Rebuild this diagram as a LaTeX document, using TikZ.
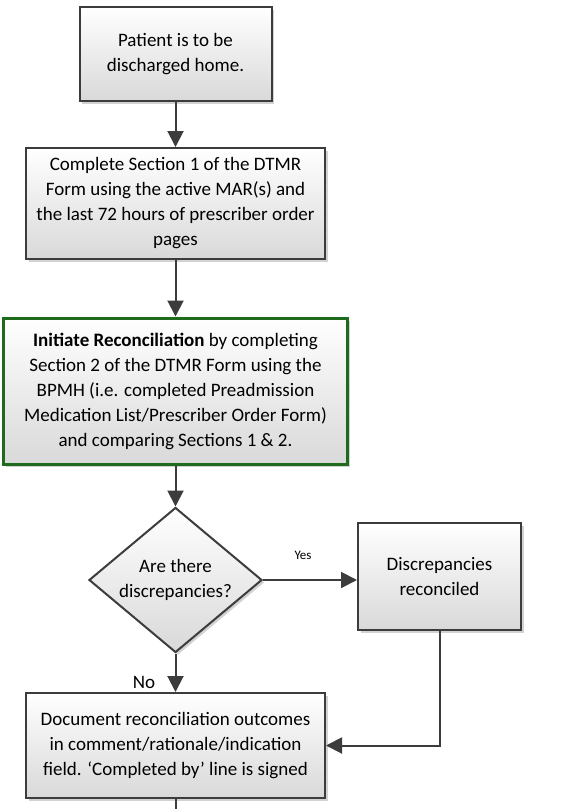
\documentclass[tikz,border=0pt]{standalone}
\usepackage{fontspec}
\setmainfont{Carlito}
\usetikzlibrary{shapes.geometric,arrows.meta,shadows}
\definecolor{edge}{HTML}{3C3C3C}
\definecolor{grn}{HTML}{1E6B1E}
\begin{document}
\begin{tikzpicture}[x=1pt,y=-1pt,
  box/.style={draw=edge,line width=2pt,top color=white,bottom color=black!15,
    drop shadow={shadow xshift=2.5pt,shadow yshift=-2.5pt,fill=black!35,opacity=.5},
    align=center,inner sep=2pt,font=\fontsize{19}{25}\selectfont},
  dec/.style={shape=diamond,draw=edge,line width=2pt,top color=white,bottom color=black!15,
    drop shadow={shadow xshift=2.5pt,shadow yshift=-2.5pt,fill=black!35,opacity=.5},
    inner sep=0pt,minimum width=173pt,minimum height=145pt},
  txt/.style={align=center,font=\fontsize{19}{25}\selectfont},
  arr/.style={draw=edge,line width=2pt,-{Triangle[length=16pt,width=16pt]},color=edge},
  ln/.style={draw=edge,line width=2pt}]
\useasboundingbox (0,0) rectangle (588,809);
\node[box,minimum width=192pt,minimum height=94pt] (b1) at (175.5,54) {Patient is to be\\discharged home.};
\node[box,minimum width=299pt,minimum height=111pt] (b2) at (175.5,203.5) {Complete Section 1 of the DTMR\\Form using the active MAR(s) and\\the last 72 hours of prescriber order\\pages};
\node[box,draw=grn,line width=3pt,minimum width=344pt,minimum height=146pt] (b3) at (175.5,391) {\textbf{Initiate Reconciliation} by completing\\Section 2 of the DTMR Form using the\\BPMH (i.e. completed Preadmission\\Medication List/Prescriber Order Form)\\and comparing Sections 1 \& 2.};
\node[dec] (d) at (175.5,580) {};
\node[txt] (dt) at (175.5,580) {Are there\\discrepancies?};
\node[box,minimum width=163pt,minimum height=107pt] (r) at (439.5,576.5) {Discrepancies\\reconciled};
\node[box,minimum width=299pt,minimum height=105pt] (b4) at (175.5,745.5) {Document reconciliation outcomes\\in comment/rationale/indication\\field. ‘Completed by’ line is signed};
\coordinate (end) at (175.5,809);
\coordinate (bend) at (r.south |- b4.east);
\draw[arr] (b1) -- (b2);
\draw[arr] (b2) -- (b3);
\draw[arr] (b3) -- (d);
\draw[arr] (d.east) -- (r.west |- d.east);
\node[font=\fontsize{13}{15}\selectfont] (yes) at (303,555) {Yes};
\draw[arr] (d) -- (b4);
\node[font=\fontsize{19}{22}\selectfont] (no) at (144,682) {No};
\draw[arr] (r.south) -- (bend) -- (b4.east);
\draw[ln] (b4.south) -- (end);
\end{tikzpicture}
\end{document}
